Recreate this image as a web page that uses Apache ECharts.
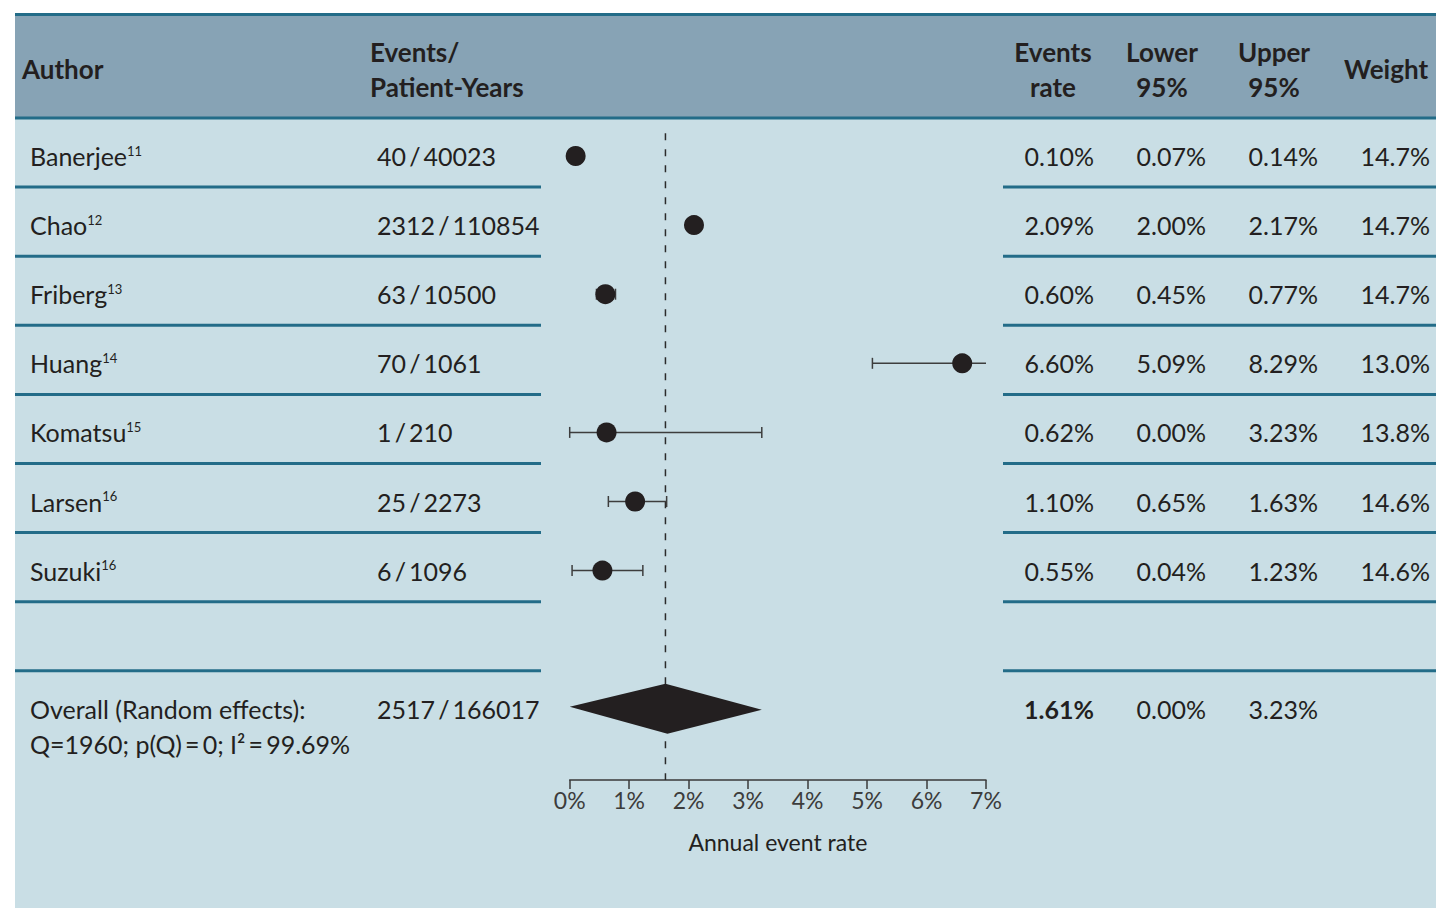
<!DOCTYPE html>
<html>
<head>
<meta charset="utf-8">
<title>Annual event rate – forest plot</title>
<script src="https://cdn.jsdelivr.net/npm/echarts@6/dist/echarts.min.js"></script>
<style>
  html, body { margin: 0; padding: 0; background: #ffffff; }
  #chart { width: 1436px; height: 908px; }
</style>
</head>
<body>
<div id="chart"></div>
<script>
// ---- Study data ----
const authors      = ['Banerjee', 'Chao', 'Friberg', 'Huang', 'Komatsu', 'Larsen', 'Suzuki'];
const refs         = ['11', '12', '13', '14', '15', '16', '16'];
const eventCounts  = [40, 2312, 63, 70, 1, 25, 6];
const patientYears = [40023, 110854, 10500, 1061, 210, 2273, 1096];
const eventRate    = [0.10, 2.09, 0.60, 6.60, 0.62, 1.10, 0.55];
const lower95      = [0.07, 2.00, 0.45, 5.09, 0.00, 0.65, 0.04];
const upper95      = [0.14, 2.17, 0.77, 8.29, 3.23, 1.63, 1.23];
const weights      = [14.7, 14.7, 14.7, 13.0, 13.8, 14.6, 14.6];

// ---- Pooled estimate ----
const overallLabel   = ['Overall (Random effects):', 'Q=1960; p(Q)\u2009=\u20090; I\u00B2\u2009=\u200999.69%'];
const overallEvents  = 2517;
const overallPY      = 166017;
const overallRate    = 1.61;
const overallLower   = 0.00;
const overallUpper   = 3.23;

// ---- Axis / headers ----
const xTicks = [0, 1, 2, 3, 4, 5, 6, 7];
const axisTitle = 'Annual event rate';
const headers = {
  author: 'Author',
  events: 'Events/\nPatient-Years',
  rate: 'Events\nrate',
  lower: 'Lower\n95%',
  upper: 'Upper\n95%',
  weight: 'Weight'
};

// ---- Styling / layout ----
const INK = '#231f20';
const RULE = '#236c88';
const PANEL = '#c9dee5';
const HEAD = '#87a3b5';
const BODY_SIZE = 25;
const HEAD_SIZE = 26;
const OVERALL_ROW = authors.length + 1;       // one blank row before the pooled row
const COL = { author: 30, events: 377, rate: 1094, lower: 1206, upper: 1318, weight: 1430 };
const X_MAX = xTicks[xTicks.length - 1];
const SLASH = '\u2009/\u2009';

const pct2 = v => v.toFixed(2) + '%';
const pct1 = v => v.toFixed(1) + '%';

const chart = echarts.init(document.getElementById('chart'), null, { renderer: 'svg' });

function txt(text, x, y, align, extra) {
  return {
    type: 'text',
    style: Object.assign({
      text, x, y, align, verticalAlign: 'middle',
      fontFamily: 'Lato', fontSize: BODY_SIZE, fill: INK
    }, extra || {})
  };
}

function headText(text, x, align) {
  return {
    type: 'text', z: 10,
    style: {
      text, x, y: 69, align, verticalAlign: 'middle', lineHeight: 35,
      fontFamily: 'Lato', fontWeight: 'bold', fontSize: HEAD_SIZE, fill: INK
    }
  };
}

const option = {
  animation: false,
  backgroundColor: '#ffffff',
  graphic: [
    { type: 'rect', z: -10, shape: { x: 15, y: 14, width: 1421, height: 894 }, style: { fill: PANEL } },
    { type: 'rect', z: -9, shape: { x: 15, y: 14, width: 1421, height: 104 }, style: { fill: HEAD } },
    { type: 'line', z: -8, shape: { x1: 15, y1: 14.5, x2: 1436, y2: 14.5 }, style: { stroke: RULE, lineWidth: 3 } },
    headText(headers.author, 22, 'left'),
    headText(headers.events, 370, 'left'),
    headText(headers.rate, 1053, 'center'),
    headText(headers.lower, 1162, 'center'),
    headText(headers.upper, 1274, 'center'),
    headText(headers.weight, 1386, 'center')
  ],
  grid: { left: 569.7, right: 450, top: 118, bottom: 128, containLabel: false, outerBoundsMode: 'none' },
  xAxis: {
    type: 'value', min: 0, max: X_MAX, interval: 1,
    splitLine: { show: false },
    axisLine: { show: true, onZero: false, lineStyle: { color: '#3a3a3a', width: 1.5 } },
    axisTick: { show: true, length: 9, lineStyle: { color: '#3a3a3a', width: 1.5 } },
    axisLabel: {
      margin: 8, fontFamily: 'Lato', fontSize: 23, color: '#3c3c3c',
      formatter: v => xTicks.includes(v) ? v + '%' : ''
    },
    name: axisTitle, nameLocation: 'middle', nameGap: 50,
    nameTextStyle: { fontFamily: 'Lato', fontSize: 23, color: INK }
  },
  yAxis: { type: 'value', inverse: true, min: -0.55, max: 9.03, show: false, splitLine: { show: false } },
  series: [
    // row rules of the table (left and right blocks), header rule full width
    {
      type: 'custom', clip: false, silent: true, z: 1,
      data: Array.from({ length: OVERALL_ROW + 1 }, (_, k) => [0, k - 0.55]),
      renderItem(params, api) {
        const y = api.coord([0, api.value(1)])[1];
        const k = params.dataIndex;
        const style = { stroke: RULE, lineWidth: 3 };
        if (k === 0) {
          return { type: 'line', shape: { x1: 15, y1: y, x2: 1436, y2: y }, style };
        }
        return {
          type: 'group', children: [
            { type: 'line', shape: { x1: 15, y1: y, x2: 541, y2: y }, style },
            { type: 'line', shape: { x1: 1003, y1: y, x2: 1436, y2: y }, style }
          ]
        };
      }
    },
    // reference line at the pooled estimate
    {
      type: 'custom', clip: false, silent: true, z: 2,
      data: [[overallRate, -0.33, 9.03]],
      renderItem(params, api) {
        const p1 = api.coord([api.value(0), api.value(1)]);
        const p2 = api.coord([api.value(0), api.value(2)]);
        return {
          type: 'line',
          shape: { x1: p1[0], y1: p1[1], x2: p2[0], y2: p2[1] },
          style: { stroke: '#2b2b2b', lineWidth: 1.5, lineDash: [7, 9] }
        };
      }
    },
    // confidence intervals
    {
      type: 'custom', clip: false, silent: true, z: 3,
      data: authors.map((_, i) => [lower95[i], upper95[i], i]),
      renderItem(params, api) {
        const lo = api.value(0), hi = api.value(1), row = api.value(2);
        const a = api.coord([lo, row]);
        const b = api.coord([Math.min(hi, X_MAX), row]);
        const st = { stroke: '#3d3d3d', lineWidth: 1.5 };
        const kids = [{ type: 'line', shape: { x1: a[0], y1: a[1], x2: b[0], y2: b[1] }, style: st }];
        kids.push({ type: 'line', shape: { x1: a[0], y1: a[1] - 5.5, x2: a[0], y2: a[1] + 5.5 }, style: st });
        if (hi <= X_MAX) {
          kids.push({ type: 'line', shape: { x1: b[0], y1: b[1] - 5.5, x2: b[0], y2: b[1] + 5.5 }, style: st });
        }
        return { type: 'group', children: kids };
      }
    },
    // point estimates
    {
      type: 'scatter', silent: true, z: 4,
      symbol: 'circle', symbolSize: 20,
      itemStyle: { color: INK, opacity: 1 },
      data: authors.map((_, i) => [eventRate[i], i])
    },
    // pooled diamond
    {
      type: 'custom', clip: false, silent: true, z: 4,
      data: [[overallLower, overallRate, overallUpper, OVERALL_ROW]],
      renderItem(params, api) {
        const row = api.value(3);
        const L = api.coord([api.value(0), row]);
        const C = api.coord([api.value(1), row]);
        const R = api.coord([api.value(2), row]);
        const h = 25;
        return {
          type: 'polygon',
          shape: { points: [[L[0], L[1] - 2], [C[0], C[1] - h], [R[0], R[1] + 1], [C[0] + 2, C[1] + h]] },
          style: { fill: INK }
        };
      }
    },
    // table text for each study
    {
      type: 'custom', clip: false, silent: true, z: 6,
      data: authors.map((_, i) => [0, i]),
      renderItem(params, api) {
        const i = params.dataIndex;
        const y = api.coord([0, api.value(1)])[1];
        return {
          type: 'group', children: [
            {
              type: 'text',
              style: {
                text: '{n|' + authors[i] + '}{s|' + refs[i] + '}',
                x: COL.author, y, verticalAlign: 'middle',
                rich: {
                  n: { fontFamily: 'Lato', fontSize: BODY_SIZE, fill: INK, lineHeight: 24 },
                  s: { fontFamily: 'Lato', fontSize: 13, fill: INK, verticalAlign: 'top', lineHeight: 13 }
                }
              }
            },
            txt(eventCounts[i] + SLASH + patientYears[i], COL.events, y, 'left'),
            txt(pct2(eventRate[i]), COL.rate, y, 'right'),
            txt(pct2(lower95[i]), COL.lower, y, 'right'),
            txt(pct2(upper95[i]), COL.upper, y, 'right'),
            txt(pct1(weights[i]), COL.weight, y, 'right')
          ]
        };
      }
    },
    // table text for the pooled row
    {
      type: 'custom', clip: false, silent: true, z: 6,
      data: [[0, OVERALL_ROW]],
      renderItem(params, api) {
        const y = api.coord([0, api.value(1)])[1];
        return {
          type: 'group', children: [
            txt(overallLabel[0], COL.author, y, 'left'),
            txt(overallLabel[1], COL.author, y + 35, 'left'),
            txt(overallEvents + SLASH + overallPY, COL.events, y, 'left'),
            txt(pct2(overallRate), COL.rate, y, 'right', { fontWeight: 'bold' }),
            txt(pct2(overallLower), COL.lower, y, 'right'),
            txt(pct2(overallUpper), COL.upper, y, 'right')
          ]
        };
      }
    }
  ]
};

chart.setOption(option);
</script>
</body>
</html>
